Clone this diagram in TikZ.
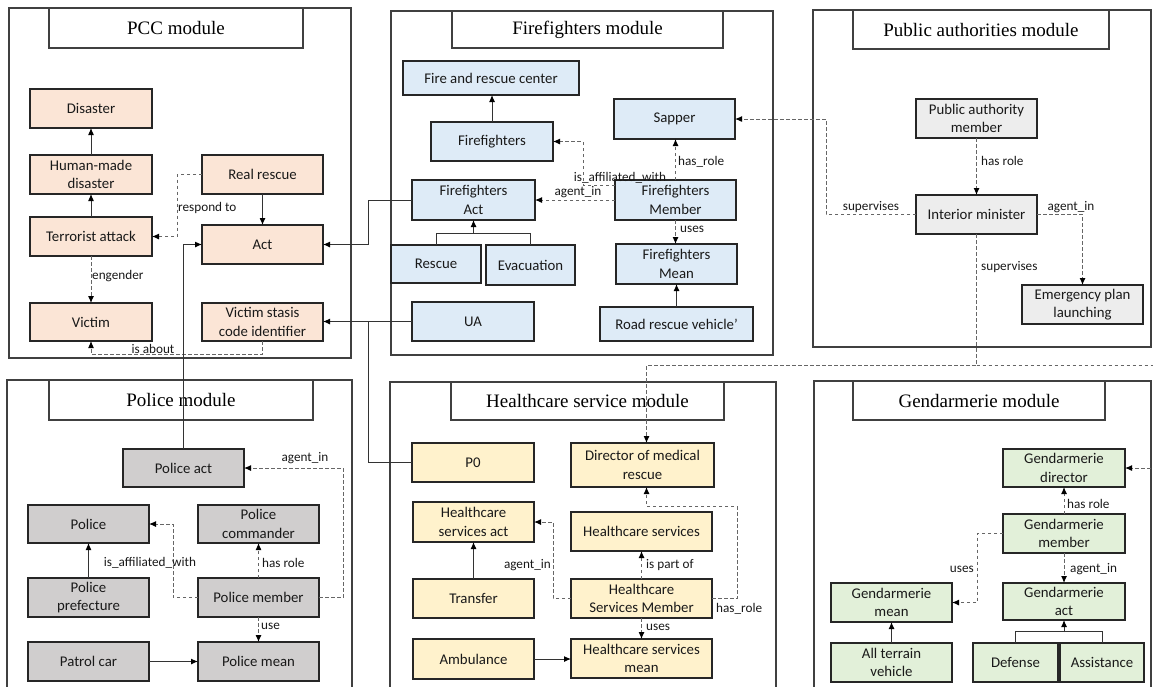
\documentclass[tikz,border=0pt]{standalone}
\usepackage{fontspec}
\setmainfont{Carlito}
\newfontfamily\ttlfont{Liberation Serif}
\usetikzlibrary{arrows.meta,calc}
\definecolor{cpcc}{HTML}{FBE5D6}
\definecolor{cff}{HTML}{DEEBF7}
\definecolor{cpa}{HTML}{EDEDED}
\definecolor{cpol}{HTML}{D0CECE}
\definecolor{chc}{HTML}{FFF2CC}
\definecolor{cgd}{HTML}{E2F0D9}
\definecolor{lncol}{HTML}{333333}
\newcommand\bx[7]{\node[#2, minimum width={(#5-#3)*1pt}, minimum height={(#6-#4)*1pt}] (#1) at ({(#3+#5)/2},{(#4+#6)/2}) {#7};}
\tikzset{
  box/.style={draw=black!85, line width=1.2pt, align=center, inner sep=1pt, outer sep=0pt,
    font=\fontsize{14.8}{18.5}\selectfont, text=black!90},
  pccb/.style={box, fill=cpcc},
  ffb/.style={box, fill=cff},
  pab/.style={box, fill=cpa},
  polb/.style={box, fill=cpol},
  hcb/.style={box, fill=chc},
  gdb/.style={box, fill=cgd},
  frame/.style={draw=black!75, line width=1.1pt, inner sep=0pt, outer sep=0pt},
  ttl/.style={draw=black!75, line width=1.1pt, fill=white, inner sep=0pt, outer sep=0pt,
    font=\ttlfont\fontsize{19}{22}\selectfont},
  sline/.style={draw=lncol, line width=1pt},
  sarr/.style={sline, -{Latex[length=7pt,width=6pt,color=black]}},
  dline/.style={draw=black!60, line width=1pt, dash pattern=on 3.5pt off 2.5pt},
  darr/.style={dline, -{Latex[length=7pt,width=6pt,fill=black,color=black]}},
  lbl/.style={font=\fontsize{13.2}{15}\selectfont, inner sep=1pt, text=black!90},
}
\begin{document}
\begin{tikzpicture}[x=1pt,y=-1pt]
\useasboundingbox (0,0) rectangle (1153,686);
\fill[white] (0,0) rectangle (1153,686);
% module frames
\bx{fpcc}{frame}{9}{8}{351}{358}{}
\bx{fff}{frame}{391}{11}{773}{355}{}
\bx{fpa}{frame}{813}{10}{1151}{347}{}
\bx{fpol}{frame}{7}{380}{352}{700}{}
\bx{fhc}{frame}{390}{382}{776}{700}{}
\bx{fgd}{frame}{814}{381}{1151}{700}{}
% titles
\bx{tpcc}{ttl}{49}{8}{303}{48}{PCC module}
\bx{tff}{ttl}{452}{11}{723}{48}{Firefighters module}
\bx{tpa}{ttl}{853}{10}{1109}{49}{Public authorities module}
\bx{tpol}{ttl}{49}{380}{313}{420}{Police module}
\bx{thc}{ttl}{451}{382}{724}{420}{Healthcare service module}
\bx{tgd}{ttl}{853}{381}{1105}{420}{Gendarmerie module}
% PCC
\bx{dis}{pccb}{30}{89}{152}{128}{Disaster}
\bx{hmd}{pccb}{30}{155}{152}{194}{Human-made\\disaster}
\bx{ta}{pccb}{30}{217}{152}{256}{Terrorist attack}
\bx{vic}{pccb}{30}{303}{152}{341}{Victim}
\bx{rr}{pccb}{202}{155}{323}{194}{Real rescue}
\bx{act}{pccb}{202}{225}{323}{264}{Act}
\bx{vsc}{pccb}{202}{303}{323}{341}{Victim stasis\\code identifier}
% Firefighters
\bx{frc}{ffb}{403}{61}{579}{95}{Fire and rescue center}
\bx{ff}{ffb}{431}{122}{553}{161}{Firefighters}
\bx{ffa}{ffb}{412}{180}{535}{220}{Firefighters\\Act}
\bx{res}{ffb}{391}{245}{481}{283}{Rescue}
\bx{eva}{ffb}{486}{245}{575}{285}{Evacuation}
\bx{ua}{ffb}{412}{302}{534}{341}{UA}
\bx{sap}{ffb}{614}{99}{735}{139}{Sapper}
\bx{ffm}{ffb}{615}{180}{736}{220}{Firefighters\\Member}
\bx{ffmean}{ffb}{616}{244}{737}{284}{Firefighters\\Mean}
\bx{rrv}{ffb}{600}{307}{753}{341}{Road rescue vehicle'}
% Public authorities
\bx{pam}{pab}{916}{99}{1037}{138}{Public authority\\member}
\bx{im}{pab}{916}{195}{1037}{234}{Interior minister}
\bx{epl}{pab}{1022}{285}{1143}{324}{Emergency plan\\launching}
% Police
\bx{pa}{polb}{123}{449}{244}{487}{Police act}
\bx{pol}{polb}{28}{505}{149}{543}{Police}
\bx{pcom}{polb}{198}{505}{319}{543}{Police\\commander}
\bx{ppref}{polb}{28}{578}{149}{617}{Police\\prefecture}
\bx{pm}{polb}{198}{578}{319}{617}{Police member}
\bx{pcar}{polb}{28}{642}{149}{681}{Patrol car}
\bx{pmean}{polb}{198}{642}{319}{681}{Police mean}
% Healthcare
\bx{p0}{hcb}{412}{443}{534}{482}{P0}
\bx{dmr}{hcb}{571}{443}{714}{487}{Director of medical\\rescue}
\bx{hsa}{hcb}{413}{502}{534}{542}{Healthcare\\services act}
\bx{hs}{hcb}{571}{512}{712}{551}{Healthcare services}
\bx{tr}{hcb}{413}{579}{534}{618}{Transfer}
\bx{hsm}{hcb}{571}{579}{712}{618}{Healthcare\\Services Member}
\bx{amb}{hcb}{413}{639}{534}{679}{Ambulance}
\bx{hsmean}{hcb}{571}{639}{712}{678}{Healthcare services\\mean}
% Gendarmerie
\bx{gdir}{gdb}{1003}{449}{1125}{487}{Gendarmerie\\director}
\bx{gmem}{gdb}{1003}{514}{1125}{553}{Gendarmerie\\member}
\bx{gmean}{gdb}{831}{583}{952}{622}{Gendarmerie\\mean}
\bx{gact}{gdb}{1003}{583}{1125}{620}{Gendarmerie\\act}
\bx{atv}{gdb}{831}{643}{952}{682}{All terrain\\vehicle}
\bx{def}{gdb}{973}{643}{1058}{682}{Defense}
\bx{asst}{gdb}{1060}{643}{1144}{682}{Assistance}

% ---- PCC connectors
\draw[sarr] (hmd.north) -- (hmd.north |- dis.south);
\draw[sarr] (ta.north) -- (ta.north |- hmd.south);
\draw[sarr] (rr.south) -- (rr.south |- act.north);
\draw[darr] (rr.west) -- ++(-25,0) |- (ta.east);
\node[lbl, anchor=west] (l1) at (177,208) {respond to};
\draw[darr] (ta.south) -- (ta.south |- vic.north);
\node[lbl, anchor=west] (l2) at (91,276) {engender};
\draw[darr] (vsc.south) -- ++(0,13) -| (vic.south);
\node[lbl, anchor=south] (l3) at (153,355) {is about};
% ---- inter-module solid lines
\draw[sarr] (ffa.west) -- ++(-44,0) |- (act.east);
\draw[sarr] (ua.west) -- (vsc.east |- ua.west);
\draw[sline] (p0.west) -- ++(-44,0) |- (ua.west);
\draw[sarr] (pa.north) |- (act.west);
% ---- Firefighters
\draw[sarr] (ff.north) -- (ff.north |- frc.south);
\draw[sline] (res.north) -- ++(0,-12) -| (eva.north);
\draw[sarr] ($(ffa.south)+(0,13)$) -- (ffa.south);
\draw[darr] ([yshift=15pt]ffm.west) -- ++(-32,0) |- (ff.east);
\node[lbl, anchor=south] (l4) at (620,184) {is\_affiliated\_with};
\draw[darr] (ffm.west) -- (ffa.east);
\node[lbl, anchor=south] (l5) at (578,199) {agent\_in};
\draw[darr] (ffm.north) -- (ffm.north |- sap.south);
\node[lbl, anchor=west] (l6) at (677,162) {has\_role};
\draw[darr] (ffm.south) -- (ffm.south |- ffmean.north);
\node[lbl, anchor=west] (l7) at (679,229) {uses};
\draw[sarr] (rrv.north) -- (rrv.north |- ffmean.south);
% ---- Public authorities
\draw[darr] (pam.south) -- (im.north);
\node[lbl, anchor=west] (l8) at (980,161) {has role};
\draw[darr] (im.east) -| (epl.north);
\node[lbl, anchor=south] (l9) at (1071,214) {agent\_in};
\draw[darr] (im.west) -- ++(-90,0) |- (sap.east);
\node[lbl, anchor=south] (l10) at (871,214) {supervises};
\draw[darr] (im.south) -- ++(0,131) -| ([xshift=4pt]dmr.north);
\node[lbl, anchor=west] (l11) at (980,267) {supervises};
\draw[darr] (im.south) ++(0,131) -- (1165,365) |- (gdir.east);
% ---- Police
\draw[sarr] (ppref.north) -- (pol.south);
\draw[darr] (pm.west) -- ++(-25,0) |- (pol.east);
\node[lbl] (l12) at (150,563) {is\_affiliated\_with};
\draw[darr] (pm.north) -- (pcom.south);
\node[lbl, anchor=west] (l13) at (261,563) {has role};
\draw[darr] (pm.east) -- ++(24,0) |- (pa.east);
\node[lbl, anchor=south] (l14) at (305,465) {agent\_in};
\draw[darr] (pm.south) -- (pmean.north);
\node[lbl, anchor=west] (l15) at (260,626) {use};
\draw[sarr] (pcar.east) -- (pmean.west);
% ---- Healthcare
\draw[sarr] (tr.north) -- (hsa.south);
\draw[darr] (hsm.west) -- ++(-18,0) |- (hsa.east);
\node[lbl, anchor=east] (l16) at (552,565) {agent\_in};
\draw[darr] (hsm.north) -- (hsm.north |- hs.south);
\node[lbl, anchor=west] (l17) at (645,565) {is part of};
\draw[darr] (hsm.east) -- ++(25,0) -- ++(0,-92) -| ([xshift=4pt]dmr.south);
\node[lbl, anchor=west] (l18) at (715,609) {has\_role};
\draw[darr] (hsm.south) -- (hsm.south |- hsmean.north);
\node[lbl, anchor=west] (l19) at (645,627) {uses};
\draw[sarr] (amb.east) -- (amb.east -| hsmean.west);
% ---- Gendarmerie
\draw[darr] (gmem.north) -- (gdir.south);
\node[lbl, anchor=west] (l20) at (1066,504) {has role};
\draw[darr] (gmem.south) -- (gact.north);
\node[lbl, anchor=west] (l21) at (1069,569) {agent\_in};
\draw[darr] (gmem.west) -- ++(-26,0) |- (gmean.east);
\node[lbl, anchor=east] (l22) at (975,569) {uses};
\draw[sarr] (atv.north) -- (gmean.south);
\draw[sline] (def.north) -- ++(0,-12) -| (asst.north);
\draw[sarr] ($(gact.south)+(0,12)$) -- (gact.south);
\end{tikzpicture}
\end{document}
